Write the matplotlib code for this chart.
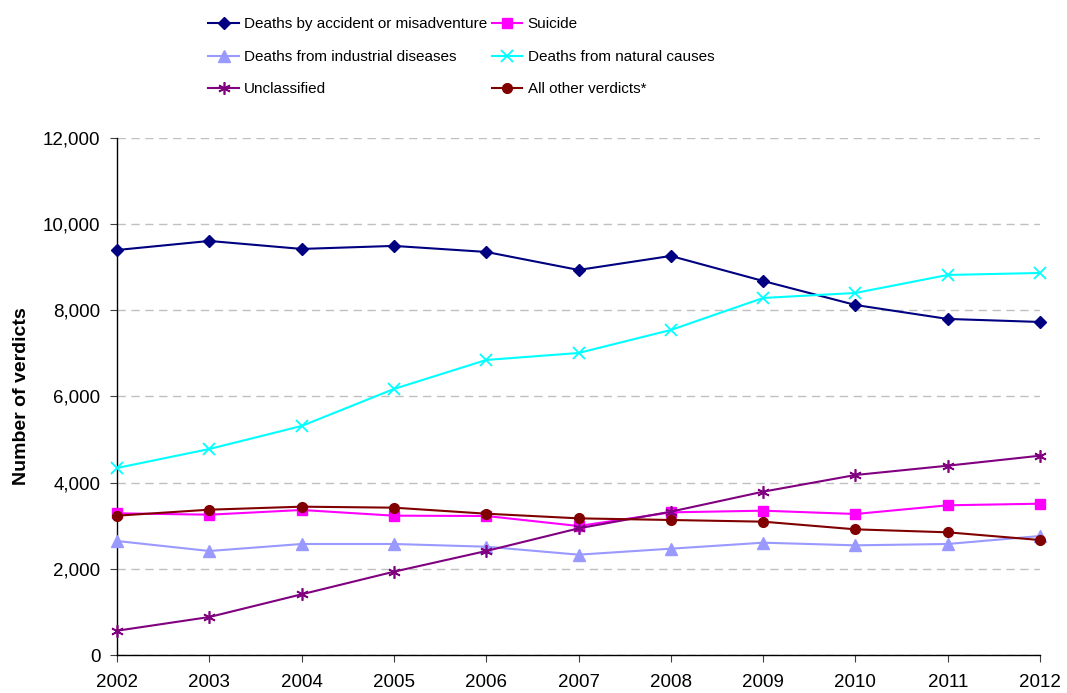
import matplotlib.pyplot as plt
from matplotlib.ticker import FuncFormatter

plt.rcParams['font.family'] = ['Liberation Sans', 'DejaVu Sans']

years = list(range(2002, 2013))
accident = [9400, 9610, 9425, 9495, 9355, 8937, 9262, 8681, 8124, 7800, 7730]
suicide = [3289, 3257, 3366, 3234, 3227, 2994, 3311, 3350, 3273, 3475, 3512]
industrial = [2646, 2414, 2577, 2577, 2514, 2329, 2468, 2607, 2546, 2577, 2762]
natural = [4341, 4782, 5316, 6175, 6848, 7010, 7544, 8287, 8403, 8821, 8867]
unclassified = [564, 882, 1409, 1934, 2414, 2940, 3327, 3791, 4178, 4394, 4626]
other = [3234, 3373, 3443, 3420, 3280, 3172, 3134, 3095, 2917, 2848, 2669]

fig = plt.figure(figsize=(10.67, 6.93), dpi=100)
ax = fig.add_axes([0.1097, 0.0548, 0.865, 0.7461])

ax.grid(axis='y', color='#c0c0c0', linestyle=(0, (6, 4)), linewidth=1)
ax.set_axisbelow(True)

kw = dict(linewidth=1.5, clip_on=False, zorder=3)
l_acc, = ax.plot(years, accident, color='#000080', marker='D', markersize=6.5,
                 label='Deaths by accident or misadventure', **kw)
l_sui, = ax.plot(years, suicide, color='#ff00ff', marker='s', markersize=6.5,
                 label='Suicide', **kw)
l_ind, = ax.plot(years, industrial, color='#9999ff', marker='^', markersize=8,
                 label='Deaths from industrial diseases', **kw)
l_nat, = ax.plot(years, natural, color='#00ffff', marker='x', markersize=8,
                 markeredgewidth=1.3, label='Deaths from natural causes', **kw)
l_unc, = ax.plot(years, unclassified, color='#800080', marker=(6, 2, 0),
                 markersize=9, markeredgewidth=1.2, label='Unclassified', **kw)
l_oth, = ax.plot(years, other, color='#800000', marker='o', markersize=7,
                 label='All other verdicts*', **kw)

ax.set_xlim(2002, 2012)
ax.set_ylim(0, 12000)
ax.set_xticks(years)
ax.set_yticks(range(0, 12001, 2000))
ax.yaxis.set_major_formatter(FuncFormatter(lambda v, p: f'{int(v):,}'))
ax.tick_params(labelsize=13.5, length=5, direction='out', color='#404040')
ax.tick_params(axis='y', pad=7)
ax.tick_params(axis='x', pad=9)

for s in ['top', 'right']:
    ax.spines[s].set_visible(False)
for s in ['left', 'bottom']:
    ax.spines[s].set_color('black')
    ax.spines[s].set_linewidth(1)

ax.set_ylabel('Number of verdicts', fontsize=14, fontweight='bold', labelpad=9)

handles = [l_acc, l_ind, l_unc, l_sui, l_nat, l_oth]
fig.legend(handles, [h.get_label() for h in handles], ncol=2, frameon=False,
           fontsize=11, loc='upper left', bbox_to_anchor=(0.1825, 0.995),
           handlelength=2.0, handletextpad=0.33, columnspacing=0.3,
           labelspacing=1.22)

fig.savefig('out.png', dpi=100)
